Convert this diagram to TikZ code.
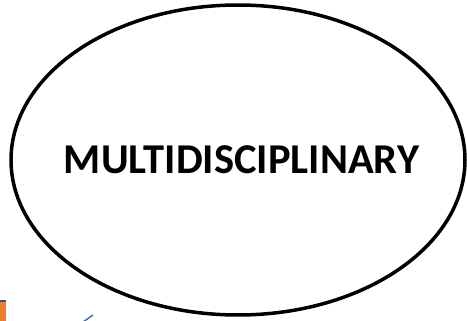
\documentclass[tikz,border=0pt]{standalone}
\usepackage{fontspec}
\setmainfont{Carlito}
\usetikzlibrary{shapes.geometric}
\definecolor{tickblue}{RGB}{68,114,196}
\definecolor{barorange}{RGB}{237,125,49}
\definecolor{bartop}{RGB}{47,85,151}
\tikzset{
  oval/.style={ellipse, draw=black, line width=3.5pt, minimum width=454pt, minimum height=310pt, inner sep=0pt},
  lbl/.style={font=\bfseries\fontsize{42.5}{42.5}\selectfont, text=black}
}
\begin{document}
\begin{tikzpicture}[x=1pt,y=-1pt]
\useasboundingbox (0,0) rectangle (467,321);
\fill[white] (0,0) rectangle (467,321);
\node[oval] (e) at (238,160) {};
\node[lbl] (t) at (241.5,160) {MULTIDISCIPLINARY};
\fill[barorange] (0,301) rectangle (6,321);
\fill[bartop] (0,300) rectangle (6,302);
\coordinate (b1) at (83,322);
\coordinate (b2) at (93,315);
\draw[tickblue, line width=1.5pt] (b1) -- (b2);
\end{tikzpicture}
\end{document}
